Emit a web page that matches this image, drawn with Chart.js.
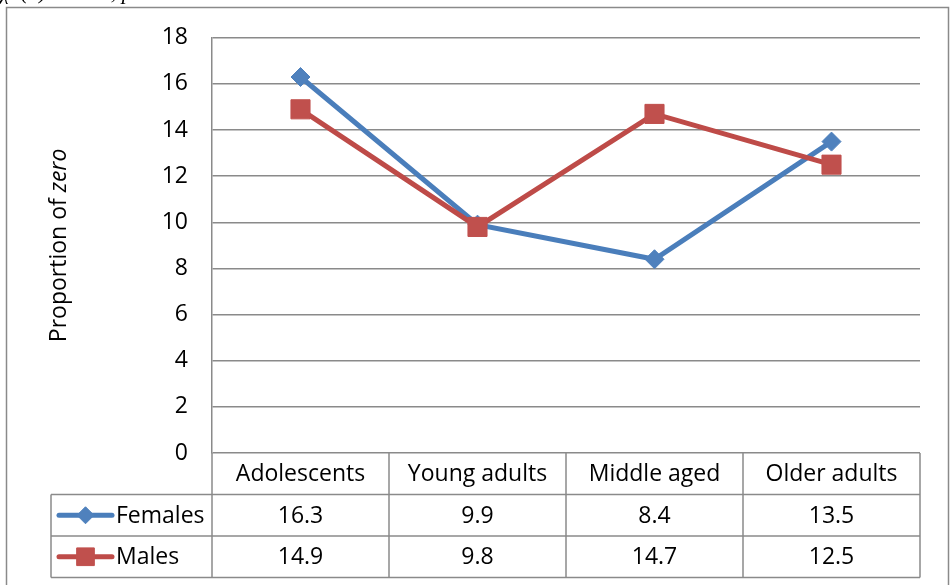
<!DOCTYPE html>
<html>
<head>
<meta charset="utf-8">
<script src="https://cdn.jsdelivr.net/npm/chart.js@4.4.1/dist/chart.umd.min.js"></script>
<style>
  html, body { margin: 0; padding: 0; background: #ffffff; overflow: hidden; }
  canvas { display: block; }
</style>
</head>
<body>
<canvas id="chart" width="951" height="585"></canvas>
<script>
// Age groups on the category axis
const categories = ['Adolescents', 'Young adults', 'Middle aged', 'Older adults'];
// Series names
const seriesNames = ['Females', 'Males'];
// Proportion of "zero" per age group
const femalesValues = [16.3, 9.9, 8.4, 13.5];
const malesValues = [14.9, 9.8, 14.7, 12.5];
// Value axis
const yMin = 0;
const yMax = 18;
const yStep = 2;
const yTitlePlain = 'Proportion of ';
const yTitleItalic = 'zero';
// Caption line running above the chart frame
const captionText = 'χ2(3) = 2.19, p';

const FONT = '"Open Sans", "Liberation Sans", sans-serif';
const TEXT_SIZE = 23;
const GRID = '#8a8a8a';
const BLUE_LINE = '#4A7EBB', BLUE_FILL = '#4F81BD';
const RED_LINE = '#BE4B48', RED_FILL = '#C0504D';

const seriesStyle = [
  { line: BLUE_LINE, fill: BLUE_FILL, marker: 'rectRot', radius: 9.5 },
  { line: RED_LINE, fill: RED_FILL, marker: 'rect', radius: 13.5 }
];
const seriesValues = [femalesValues, malesValues];

const TABLE_LEFT = 51;
const ROW_H = 41.5;

function drawMarker(ctx, style, x, y) {
  ctx.save();
  ctx.fillStyle = style.fill;
  ctx.strokeStyle = style.fill;
  ctx.lineWidth = 1;
  ctx.beginPath();
  if (style.marker === 'rectRot') {
    const r = style.radius;
    ctx.moveTo(x - r, y);
    ctx.lineTo(x, y - r);
    ctx.lineTo(x + r, y);
    ctx.lineTo(x, y + r);
    ctx.closePath();
  } else {
    const s = style.radius * Math.SQRT1_2;
    ctx.rect(x - s, y - s, 2 * s, 2 * s);
  }
  ctx.fill();
  ctx.stroke();
  ctx.restore();
}

const framePlugin = {
  id: 'frame',
  beforeDraw(chart) {
    const ctx = chart.ctx;
    ctx.save();
    ctx.fillStyle = '#ffffff';
    ctx.fillRect(0, 0, chart.width, chart.height);
    // caption, mostly cut off by the top edge
    ctx.fillStyle = '#000000';
    ctx.font = 'italic 22px "Liberation Serif", serif';
    ctx.textBaseline = 'alphabetic';
    ctx.textAlign = 'left';
    ctx.fillText(captionText, 0, -1);
    // outer frame
    ctx.strokeStyle = GRID;
    ctx.lineWidth = 1.5;
    ctx.strokeRect(6.5, 7.5, 942, 600);
    ctx.restore();
  },
  afterDraw(chart) {
    const ctx = chart.ctx;
    const a = chart.chartArea;
    const n = categories.length;
    const colW = (a.right - a.left) / n;
    const top = a.bottom;
    const r1 = top + ROW_H, r2 = r1 + ROW_H, r3 = r2 + ROW_H;

    ctx.save();
    ctx.strokeStyle = GRID;
    ctx.lineWidth = 1.5;
    ctx.beginPath();
    // horizontal rules
    ctx.moveTo(TABLE_LEFT, r1); ctx.lineTo(a.right, r1);
    ctx.moveTo(TABLE_LEFT, r2); ctx.lineTo(a.right, r2);
    ctx.moveTo(TABLE_LEFT, r3); ctx.lineTo(a.right, r3);
    // vertical rules
    ctx.moveTo(TABLE_LEFT, r1); ctx.lineTo(TABLE_LEFT, r3);
    for (let i = 0; i <= n; i++) {
      const x = a.left + i * colW;
      ctx.moveTo(x, top); ctx.lineTo(x, r3);
    }
    ctx.stroke();

    ctx.fillStyle = '#000000';
    ctx.font = TEXT_SIZE + 'px ' + FONT;
    ctx.textAlign = 'center';
    ctx.textBaseline = 'middle';
    // header row: category names
    categories.forEach((c, i) => {
      ctx.fillText(c, a.left + (i + 0.5) * colW, (top + r1) / 2 + 1);
    });
    // value rows with legend keys
    const rowsTop = [r1, r2];
    seriesNames.forEach((name, s) => {
      const cy = (rowsTop[s] + rowsTop[s] + ROW_H) / 2 + 1;
      const st = seriesStyle[s];
      ctx.save();
      ctx.strokeStyle = st.line;
      ctx.lineWidth = 5;
      ctx.lineCap = 'round';
      ctx.beginPath();
      ctx.moveTo(59, cy - 1); ctx.lineTo(112, cy - 1);
      ctx.stroke();
      ctx.restore();
      drawMarker(ctx, { ...st, radius: st.marker === 'rect' ? 12.5 : 8.5 }, 85.5, cy - 1);
      ctx.textAlign = 'left';
      ctx.fillText(name, 116, cy);
      ctx.textAlign = 'center';
      seriesValues[s].forEach((v, i) => {
        ctx.fillText(v.toFixed(1), a.left + (i + 0.5) * colW, cy);
      });
    });

    // value axis title, "zero" set in italics
    ctx.save();
    ctx.translate(59, (a.top + a.bottom) / 2);
    ctx.rotate(-Math.PI / 2);
    ctx.textAlign = 'left';
    ctx.textBaseline = 'middle';
    const plainFont = TEXT_SIZE + 'px ' + FONT;
    const italicFont = 'italic ' + TEXT_SIZE + 'px ' + FONT;
    ctx.font = plainFont;
    const w1 = ctx.measureText(yTitlePlain).width;
    ctx.font = italicFont;
    const w2 = ctx.measureText(yTitleItalic).width;
    const x0 = -(w1 + w2) / 2;
    ctx.font = plainFont;
    ctx.fillText(yTitlePlain, x0, 0);
    ctx.font = italicFont;
    ctx.fillText(yTitleItalic, x0 + w1, 0);
    ctx.restore();

    ctx.restore();
  }
};

const datasets = seriesNames.map((name, s) => ({
  label: name,
  data: seriesValues[s],
  borderColor: seriesStyle[s].line,
  backgroundColor: seriesStyle[s].fill,
  borderWidth: 5,
  pointStyle: seriesStyle[s].marker,
  pointRadius: seriesStyle[s].radius,
  pointBackgroundColor: seriesStyle[s].fill,
  pointBorderColor: seriesStyle[s].fill,
  pointBorderWidth: 1,
  tension: 0,
  order: s === 0 ? 1 : 0
}));

new Chart(document.getElementById('chart'), {
  type: 'line',
  data: { labels: categories, datasets },
  plugins: [framePlugin],
  options: {
    responsive: false,
    animation: false,
    events: [],
    layout: { padding: { left: 0, top: 36, right: 31, bottom: 0 } },
    plugins: { legend: { display: false }, tooltip: { enabled: false } },
    scales: {
      x: {
        offset: true,
        grid: { display: false, drawTicks: false },
        border: { display: false },
        ticks: { display: false },
        afterFit(scale) { scale.height = 132; }
      },
      y: {
        min: yMin,
        max: yMax,
        ticks: {
          stepSize: yStep,
          color: '#000000',
          padding: 24,
          font: { family: FONT, size: TEXT_SIZE }
        },
        grid: { color: GRID, lineWidth: 1.5, drawTicks: false },
        border: { display: true, color: GRID, width: 1.5 },
        afterFit(scale) { scale.width = 212; }
      }
    }
  }
});
</script>
</body>
</html>
